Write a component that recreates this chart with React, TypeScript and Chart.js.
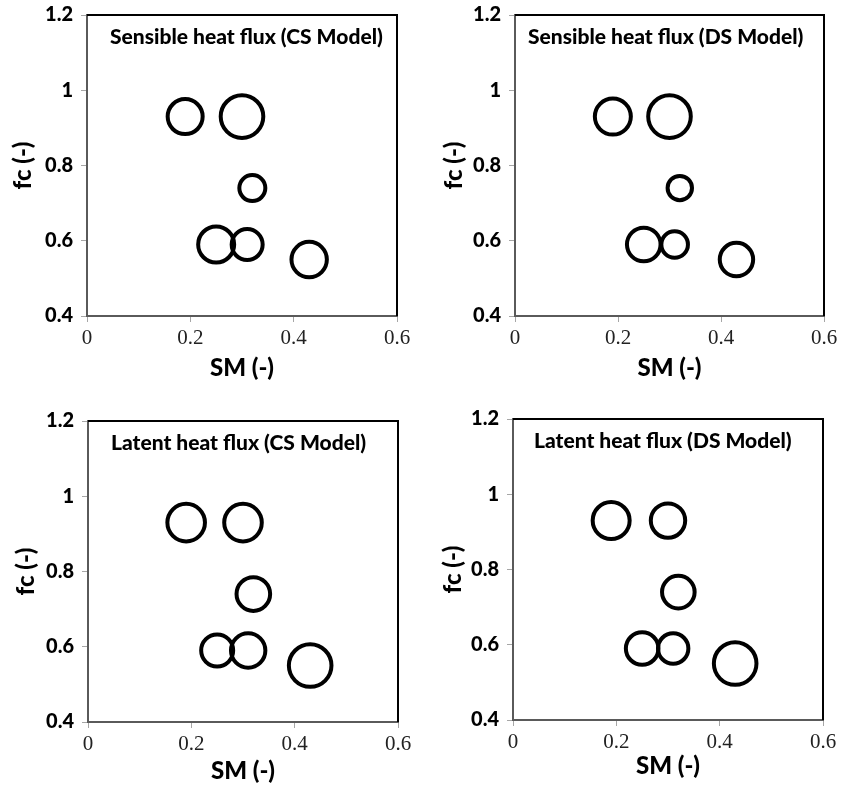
import React, { useEffect, useRef } from "react";
import { Chart, registerables } from "chart.js";

Chart.register(...registerables);

// ---- Data ----
const SM_VALUES = [0.19, 0.3, 0.32, 0.25, 0.31, 0.43];
const FC_VALUES = [0.93, 0.93, 0.74, 0.59, 0.59, 0.55];
const SENSIBLE_CS_SIZES = [17.5, 21.3, 13, 18, 15.5, 17.7];
const SENSIBLE_DS_SIZES = [18, 21.3, 12.2, 16.8, 13.3, 16.7];
const LATENT_CS_SIZES = [18.8, 18.8, 16.8, 16, 17.2, 21.3];
const LATENT_DS_SIZES = [18.5, 17.2, 16.3, 16.3, 15.2, 21.3];

const X_TICKS = [0, 0.2, 0.4, 0.6];
const X_TICK_LABELS = ["0", "0.2", "0.4", "0.6"];
const Y_TICKS = [0.4, 0.6, 0.8, 1.0, 1.2];
const Y_TICK_LABELS = ["0.4", "0.6", "0.8", "1", "1.2"];

const PANEL_TITLES = [
  "Sensible heat flux (CS Model)",
  "Sensible heat flux (DS Model)",
  "Latent heat flux (CS Model)",
  "Latent heat flux (DS Model)",
];
const PANEL_SIZES = [SENSIBLE_CS_SIZES, SENSIBLE_DS_SIZES, LATENT_CS_SIZES, LATENT_DS_SIZES];
const X_TITLE = "SM (-)";
const Y_TITLE = "fc (-)";

// ---- Layout (positions / styles) ----
const PANELS = [
  { x: 0, y: 0, w: 421, h: 390, area: { left: 87, right: 397, top: 15, bottom: 316 }, titleDx: 23, yTitlePad: 9, xTitlePad: 7 },
  { x: 421, y: 0, w: 422, h: 390, area: { left: 94, right: 403, top: 15, bottom: 316 }, titleDx: 13, yTitlePad: 19, xTitlePad: 7 },
  { x: 0, y: 390, w: 421, h: 396, area: { left: 88, right: 398, top: 31, bottom: 332 }, titleDx: 23, yTitlePad: 12, xTitlePad: 0 },
  { x: 421, y: 390, w: 422, h: 396, area: { left: 92, right: 402, top: 29, bottom: 330 }, titleDx: 21, yTitlePad: 18, xTitlePad: 5 },
];

const SANS = "Lato";

function makeFramePlugin(title: string, dx: number) {
  return {
    id: "frameAndTitle",
    afterDraw(chart: any) {
      const { ctx, chartArea } = chart;
      ctx.save();
      ctx.strokeStyle = "#000";
      ctx.lineWidth = 2;
      ctx.beginPath();
      ctx.moveTo(chartArea.left, chartArea.top);
      ctx.lineTo(chartArea.right, chartArea.top);
      ctx.lineTo(chartArea.right, chartArea.bottom);
      ctx.stroke();
      ctx.fillStyle = "#000";
      ctx.font = `900 21px ${SANS}`;
      ctx.textAlign = "left";
      ctx.textBaseline = "middle";
      ctx.fillText(title, chartArea.left + dx, chartArea.top + 22);
      ctx.restore();
    },
  };
}

function Panel({ idx }: { idx: number }) {
  const ref = useRef<HTMLCanvasElement>(null);
  const p = PANELS[idx];
  useEffect(() => {
    if (!ref.current) return;
    const sizes = PANEL_SIZES[idx];
    const data = SM_VALUES.map((x, i) => ({ x, y: FC_VALUES[i], r: sizes[i] }));
    const chart = new Chart(ref.current, {
      type: "bubble",
      data: {
        datasets: [
          {
            data,
            backgroundColor: "rgba(0,0,0,0)",
            borderColor: "#000",
            borderWidth: 4,
            hoverBorderWidth: 4,
            clip: false,
          } as any,
        ],
      },
      options: {
        responsive: false,
        animation: false,
        events: [],
        layout: {
          autoPadding: false,
          padding: { left: 0, top: p.area.top, right: p.w - p.area.right, bottom: 0 },
        },
        plugins: { legend: { display: false }, tooltip: { enabled: false } },
        scales: {
          x: {
            type: "linear",
            min: 0,
            max: 0.6,
            afterBuildTicks: (s: any) => {
              s.ticks = X_TICKS.map((v) => ({ value: v }));
            },
            afterFit: (s: any) => {
              s.height = p.h - p.area.bottom;
              s.paddingLeft = 0;
              s.paddingRight = 0;
            },
            grid: { display: true, drawOnChartArea: false, drawTicks: true, tickLength: 6, color: "#a6a6a6", lineWidth: 1 },
            border: { display: true, color: "#5a5a5a", width: 2 },
            ticks: {
              callback: (v: any) => {
                const i = X_TICKS.findIndex((t) => Math.abs(t - v) < 1e-9);
                return i >= 0 ? X_TICK_LABELS[i] : "";
              },
              font: { family: "Liberation Serif", size: 21 },
              color: "#222",
              padding: 4,
              maxRotation: 0,
            },
            title: {
              display: true,
              text: X_TITLE,
              font: { family: SANS, weight: "900", size: 24 },
              color: "#000",
              padding: { top: 0, bottom: p.xTitlePad },
            },
          },
          y: {
            type: "linear",
            min: 0.4,
            max: 1.2,
            afterBuildTicks: (s: any) => {
              s.ticks = Y_TICKS.map((v) => ({ value: v }));
            },
            afterFit: (s: any) => {
              s.width = p.area.left;
              s.paddingTop = 0;
              s.paddingBottom = 0;
            },
            grid: { display: true, drawOnChartArea: false, drawTicks: true, tickLength: 6, color: "#a6a6a6", lineWidth: 1 },
            border: { display: true, color: "#5a5a5a", width: 2 },
            ticks: {
              callback: (v: any) => {
                const i = Y_TICKS.findIndex((t) => Math.abs(t - v) < 1e-9);
                return i >= 0 ? Y_TICK_LABELS[i] : "";
              },
              font: { family: SANS, weight: "900", size: 20 },
              color: "#000",
              padding: 8,
            },
            title: {
              display: true,
              text: Y_TITLE,
              font: { family: SANS, weight: "900", size: 24 },
              color: "#000",
              padding: { top: p.yTitlePad, bottom: 0 },
            },
          },
        },
      },
      plugins: [makeFramePlugin(PANEL_TITLES[idx], p.titleDx)],
    } as any);
    return () => chart.destroy();
  }, [idx]);
  return (
    <canvas
      ref={ref}
      width={p.w}
      height={p.h}
      style={{ position: "absolute", left: p.x, top: p.y, width: p.w, height: p.h }}
    />
  );
}

export default function App() {
  return (
    <div style={{ position: "absolute", left: 0, top: 0, width: 843, height: 786, background: "#fff" }}>
      {PANELS.map((_, i) => (
        <Panel key={i} idx={i} />
      ))}
    </div>
  );
}
